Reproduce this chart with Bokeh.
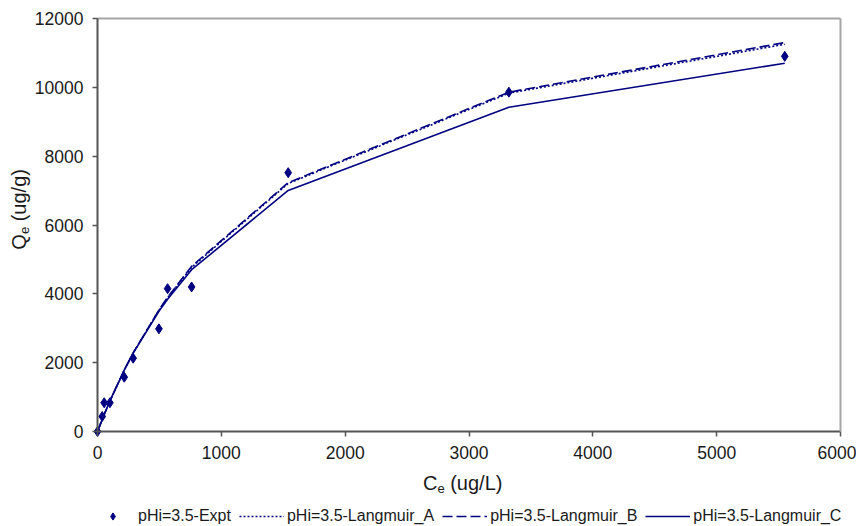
import math
from bokeh.plotting import figure
from bokeh.models import Range1d, Legend, LegendItem, Label, FixedTicker, LinearAxis
from bokeh.embed import file_html
from bokeh.resources import INLINE

# ---- data ----
ce = [0, 38, 54, 100, 216, 288, 496, 566, 760, 1540, 3322, 5550]
qe_expt = [0, 436, 834, 834, 1578, 2130, 2983, 4150, 4200, 7520, 9860, 10900]
qe_lang_a = [0, 349, 491, 883, 1780, 2279, 3521, 3884, 4771, 7207, 9830, 11250]
qe_lang_b = [0, 350, 492, 885, 1785, 2285, 3530, 3900, 4800, 7230, 9860, 11300]
qe_lang_c = [0, 352, 495, 888, 1782, 2276, 3492, 3843, 4700, 7005, 9420, 10700]
x_ticks = [0, 1000, 2000, 3000, 4000, 5000, 6000]
y_ticks = [0, 2000, 4000, 6000, 8000, 10000, 12000]
series_names = ["pHi=3.5-Expt", "pHi=3.5-Langmuir_A", "pHi=3.5-Langmuir_B", "pHi=3.5-Langmuir_C"]

# ---- layout (pixels) ----
W, H = 856, 526
PL, PR, PT, PB = 97, 840, 18, 431          # plot-area edges in the picture
XMIN, XMAX, YMIN, YMAX = 0, 6000, 0, 12000
sx = (PR - PL) / (XMAX - XMIN)
sy = (PB - PT) / (YMAX - YMIN)
x_range = Range1d(XMIN - PL / sx, XMIN + (W - PL) / sx)
y_range = Range1d(YMIN - (H - PB) / sy, YMAX + PT / sy)

NAVY = "#000080"
FONT = "Liberation Sans"
TXT = "#1a1a1a"

p = figure(width=W, height=H, output_backend="svg", toolbar_location=None,
           x_range=x_range, y_range=y_range, min_border=0,
           x_axis_location=None, y_axis_location=None,
           background_fill_color="white", border_fill_color="white")
p.outline_line_color = None
p.xgrid.visible = False
p.ygrid.visible = False

xax = LinearAxis(fixed_location=YMIN, bounds=(XMIN, XMAX), ticker=FixedTicker(ticks=x_ticks))
yax = LinearAxis(fixed_location=XMIN, bounds=(YMIN, YMAX), ticker=FixedTicker(ticks=y_ticks))
for ax in (xax, yax):
    ax.axis_line_color = "#555555"
    ax.axis_line_width = 2
    ax.major_tick_line_color = "#555555"
    ax.major_tick_line_width = 1.5
    ax.major_tick_out = 5
    ax.major_tick_in = 0
    ax.minor_tick_line_color = None
    ax.major_label_text_font = FONT
    ax.major_label_text_font_size = "17.5px"
    ax.major_label_text_color = TXT
xax.major_label_standoff = 9
yax.major_label_standoff = 9

top = LinearAxis(fixed_location=YMAX, bounds=(XMIN, XMAX), ticker=FixedTicker(ticks=[]))
right = LinearAxis(fixed_location=XMAX, bounds=(YMIN, YMAX), ticker=FixedTicker(ticks=[]))
for ax in (top, right):
    ax.axis_line_color = "#a6a6a6"
    ax.axis_line_width = 2
    ax.major_tick_line_color = None
    ax.minor_tick_line_color = None
    ax.major_label_text_alpha = 0

p.add_layout(top, "above")
p.add_layout(right, "right")
p.add_layout(xax, "below")
p.add_layout(yax, "left")

r_c = p.line(ce, qe_lang_c, line_color=NAVY, line_width=1.6)
r_b = p.line(ce, qe_lang_b, line_color=NAVY, line_width=1.6, line_dash="10 4")
r_a = p.line(ce, qe_lang_a, line_color=NAVY, line_width=1.6, line_dash="2 2")
r_e = p.scatter(ce, qe_expt, marker="diamond", size=10, fill_color=NAVY, line_color=NAVY)

legend = Legend(items=[LegendItem(label=series_names[0], renderers=[r_e]),
                       LegendItem(label=series_names[1], renderers=[r_a]),
                       LegendItem(label=series_names[2], renderers=[r_b]),
                       LegendItem(label=series_names[3], renderers=[r_c])],
                orientation="horizontal", location=(90, 1),
                padding=0, margin=0, spacing=8, label_standoff=3,
                glyph_width=45, glyph_height=18, label_height=18,
                label_text_font=FONT, label_text_font_size="16px", label_text_color=TXT,
                border_line_alpha=0, background_fill_alpha=0)
p.add_layout(legend, "center")

# x-axis title  C_e (ug/L)
lab_kw = dict(text_font=FONT, text_color=TXT, text_baseline="middle", text_align="left")
XC = (XMIN + XMAX) / 2
p.add_layout(Label(x=XC, y=YMIN, text="C", x_offset=-46, y_offset=-51, text_font_size="20px", **lab_kw))
p.add_layout(Label(x=XC, y=YMIN, text="e", x_offset=-31.6, y_offset=-57, text_font_size="13px", **lab_kw))
p.add_layout(Label(x=XC, y=YMIN, text="(ug/L)", x_offset=-18.8, y_offset=-51, text_font_size="20px", **lab_kw))

# y-axis title  Q_e (ug/g)
YC = (YMIN + YMAX) / 2
p.add_layout(Label(x=XMIN, y=YC, text="Q", x_offset=-79, y_offset=-24.7, angle=math.pi / 2,
                   text_font_size="20px", **lab_kw))
p.add_layout(Label(x=XMIN, y=YC, text="e", x_offset=-73, y_offset=-9.1, angle=math.pi / 2,
                   text_font_size="13px", **lab_kw))
p.add_layout(Label(x=XMIN, y=YC, text="(ug/g)", x_offset=-79, y_offset=3.7, angle=math.pi / 2,
                   text_font_size="20px", **lab_kw))

open("out.html", "w").write(file_html(p, INLINE))
